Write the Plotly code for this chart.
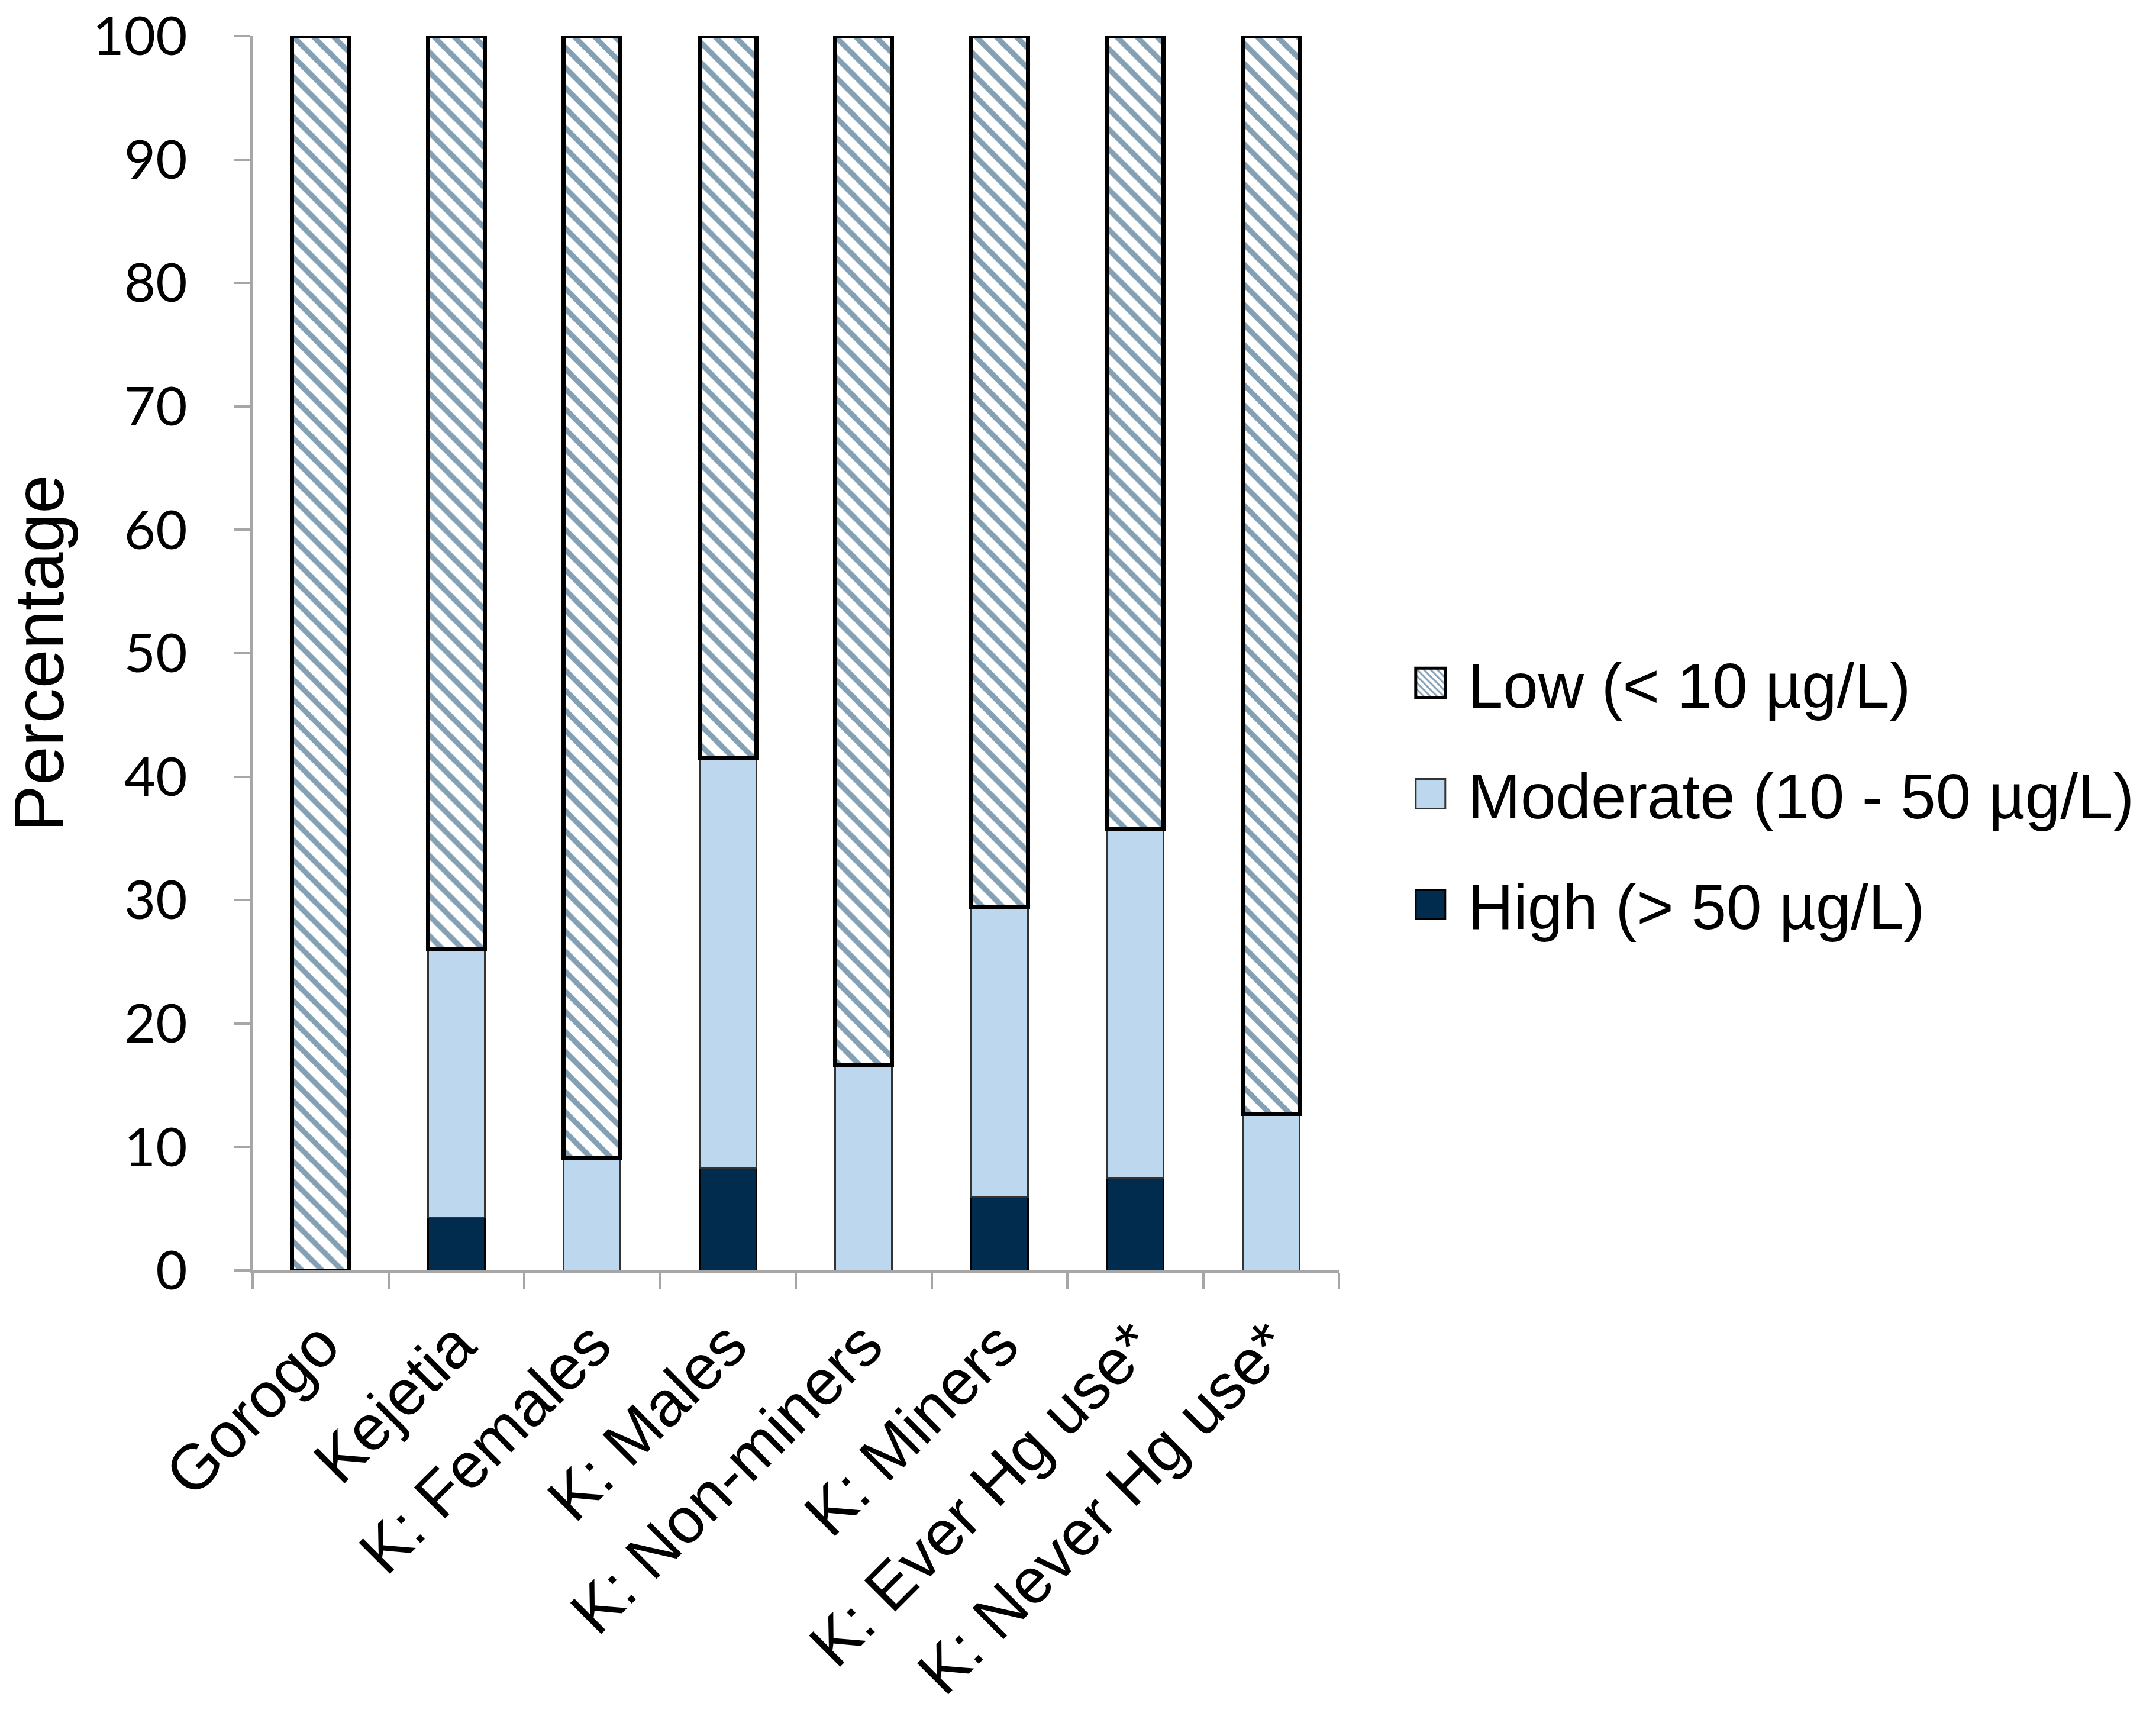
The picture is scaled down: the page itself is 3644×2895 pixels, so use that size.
import plotly.graph_objects as go

# groups on the x axis
groups = ['Gorogo', 'Kejetia', 'K: Females', 'K: Males', 'K: Non-miners',
          'K: Miners', 'K: Ever Hg use*', 'K: Never Hg use*']

# percentage of each group per exposure level
high = [0, 4.3, 0, 8.3, 0, 5.9, 7.5, 0]
moderate = [0, 21.7, 9.1, 33.25, 16.6, 23.5, 28.3, 12.7]
low = [100, 74.0, 90.9, 58.45, 83.4, 70.6, 64.2, 87.3]

y_ticks = [0, 10, 20, 30, 40, 50, 60, 70, 80, 90, 100]

ARIAL = 'Liberation Sans, Arial, sans-serif'
AXIS_GREY = '#A6A6A6'

fig = go.Figure()

fig.add_trace(go.Bar(
    x=groups, y=high, name='High (> 50 µg/L)',
    legendgroup='high', legendrank=3,
    marker=dict(color='#022C4E', line=dict(color='#000000', width=3)),
))
fig.add_trace(go.Bar(
    x=groups, y=moderate, name='Moderate (10 - 50 µg/L)',
    legendgroup='mod', legendrank=2,
    marker=dict(color='#BDD7EE', line=dict(color='#333333', width=3)),
))
fig.add_trace(go.Bar(
    x=groups, y=low, name='Low (< 10 µg/L)',
    legendgroup='low', legendrank=1,
    marker=dict(
        color='#FFFFFF',
        line=dict(color='#000000', width=7),
        pattern=dict(shape='\\', fgcolor='#0A4169', bgcolor='#FFFFFF',
                     size=24, solidity=0.38),
    ),
))

fig.update_layout(
    barmode='stack',
    bargap=0.58,
    width=3644,
    height=2895,
    margin=dict(l=427, r=1381, t=61, b=748),
    paper_bgcolor='white',
    plot_bgcolor='white',
    font=dict(family=ARIAL, size=105, color='black'),
    legend=dict(
        x=1.05, xanchor='left',
        y=0.386, yanchor='middle',
        traceorder='grouped',
        tracegroupgap=45,
        itemwidth=116,
        font=dict(family=ARIAL, size=107, color='black'),
    ),
)

fig.update_xaxes(
    showline=True, linecolor=AXIS_GREY, linewidth=4,
    ticks='outside', tickson='boundaries', ticklen=28, tickwidth=4,
    tickcolor=AXIS_GREY, tickangle=-45, ticklabelstandoff=15,
    tickfont=dict(family=ARIAL, size=108, color='black'),
    showgrid=False, zeroline=False, automargin=False,
)
fig.update_yaxes(
    range=[0, 100], tickvals=y_ticks,
    showline=True, linecolor=AXIS_GREY, linewidth=4,
    ticks='outside', ticklen=28, tickwidth=4, tickcolor=AXIS_GREY,
    ticklabelstandoff=60,
    tickfont=dict(family='Lato, sans-serif', size=92, color='black'),
    title=dict(text='Percentage', standoff=40,
               font=dict(family=ARIAL, size=118, color='black')),
    showgrid=False, zeroline=False, automargin=False,
)

# plotly draws bar legend swatches at a fixed 12px; blow them up to match,
# and drop the default page margin so the figure sits flush with the window
grow_js = """
document.body.style.margin = '0';
var gd = document.getElementById('{plot_id}');
function grow() {
  gd.querySelectorAll('.legendpoints path').forEach(function (p) {
    p.setAttribute('d', 'M25,25H-25V-25H25Z');
  });
}
grow();
gd.on('plotly_afterplot', grow);
"""

fig.write_html("out.html", post_script=grow_js,
               config={'displayModeBar': False})
